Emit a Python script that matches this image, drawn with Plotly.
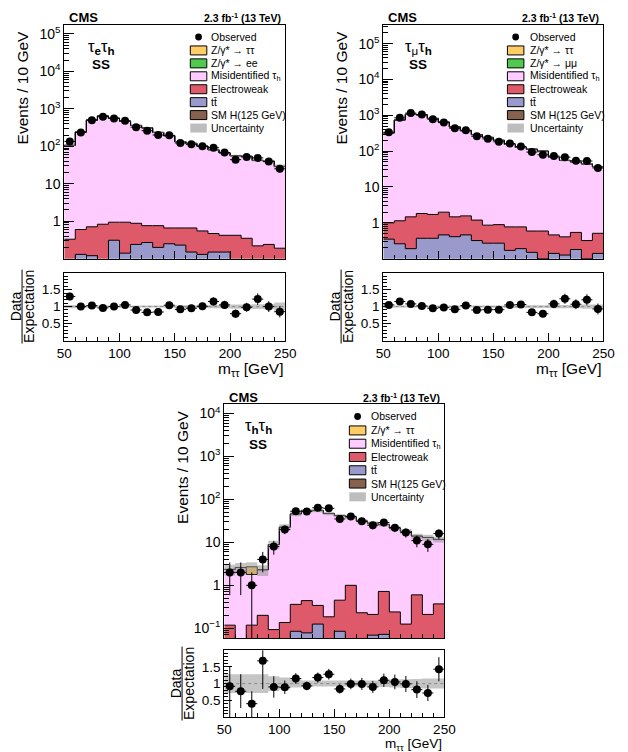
import numpy as np
import plotly.graph_objects as go

FIG_W, FIG_H = 628, 752
FONT = "Liberation Sans, Arial, sans-serif"

# ---------------- binning ----------------
bin_lo, bin_hi, bin_w = 50, 250, 10

# ---------------- tau_e tau_h (SS) ----------------
eh_obs = [135, 235, 500, 615, 552, 480, 325, 262, 200, 196, 123, 113, 100, 92, 68, 44, 52, 49, 39, 25]
eh_obs_err = [11.6, 15.3, 22.4, 24.8, 23.5, 21.9, 18.0, 16.2, 14.1, 14.0, 11.1, 10.6, 10.0, 9.6, 8.2, 6.6, 7.2, 7.0, 6.2, 5.0]
eh_ztt = [0, 0, 0, 0, 0, 0, 0, 0, 0, 0, 0, 0, 0, 0, 0, 0, 0, 0, 0, 0]
eh_zll = [0, 0, 0, 0, 0, 0, 0, 0, 0, 0, 0, 0, 0, 0, 0, 0, 0, 0, 0, 0]
eh_misid = [105.7, 239.4, 499.3, 646.2, 562.1, 465.1, 360.1, 311.2, 234.2, 191.3, 133.3, 119.3, 100.4, 80.5, 66.6, 55.6, 53.6, 41.8, 39.8, 28.8]
eh_ew = [0.33, 0.47, 0.59, 0.83, 0.63, 0.80, 0.64, 0.49, 0.56, 0.41, 0.43, 0.51, 0.42, 0.32, 0.27, 0.42, 0.35, 0.22, 0.24, 0.19]
eh_tt = [0, 0.13, 0.12, 0, 0.31, 0.14, 0.24, 0.27, 0.20, 0.25, 0.23, 0.15, 0.13, 0.15, 0.15, 0, 0, 0, 0, 0]
eh_hsm = [0, 0, 0, 0, 0, 0, 0, 0, 0, 0, 0, 0, 0, 0, 0, 0, 0, 0, 0, 0]
eh_unc = [0.05, 0.04, 0.03, 0.03, 0.03, 0.03, 0.03, 0.03, 0.03, 0.03, 0.04, 0.04, 0.04, 0.05, 0.05, 0.06, 0.06, 0.07, 0.08, 0.12]
eh_ratio = [1.30, 1.00, 1.03, 0.96, 1.00, 1.05, 0.90, 0.83, 0.84, 1.04, 0.92, 0.95, 1.01, 1.15, 1.05, 0.79, 0.98, 1.22, 1.00, 0.85]
eh_ratio_err = [0.11, 0.065, 0.045, 0.04, 0.04, 0.048, 0.05, 0.052, 0.06, 0.073, 0.083, 0.088, 0.10, 0.12, 0.12, 0.12, 0.13, 0.17, 0.16, 0.17]

# ---------------- tau_mu tau_h (SS) ----------------
mh_obs = [338, 850, 1150, 1050, 777, 625, 435, 383, 260, 220, 182, 163, 135, 94, 79, 73, 68, 54, 53, 34]
mh_obs_err = [18.4, 29.2, 33.9, 32.4, 27.9, 25.0, 20.9, 19.6, 16.1, 14.8, 13.5, 12.8, 11.6, 9.7, 8.9, 8.5, 8.2, 7.3, 7.3, 5.8]
mh_ztt = [0, 0, 0, 0, 0, 0, 0, 0, 0, 0, 0, 0, 0, 0, 0, 0, 0, 0, 0, 0]
mh_zll = [0, 0, 0, 0, 0, 0, 0, 0, 0, 0, 0, 0, 0, 0, 0, 0, 0, 0, 0, 0]
mh_misid = [321.0, 737.9, 1063.5, 1027.2, 816.3, 642.0, 471.5, 370.4, 287.8, 241.1, 199.1, 154.2, 126.2, 112.4, 99.4, 67.5, 54.6, 49.5, 43.7, 36.5]
mh_ew = [0.65, 0.88, 1.28, 1.45, 1.34, 1.52, 1.06, 1.10, 0.87, 0.59, 0.62, 0.60, 0.58, 0.44, 0.49, 0.32, 0.28, 0.36, 0.22, 0.37]
mh_tt = [0.35, 0.26, 0.19, 0.37, 0.37, 0.46, 0.41, 0.46, 0.32, 0.27, 0.27, 0.17, 0.19, 0.15, 0.10, 0.14, 0.126, 0.18, 0.10, 0.14]
mh_hsm = [0, 0, 0, 0, 0, 0, 0, 0, 0, 0, 0, 0, 0, 0, 0, 0, 0, 0, 0, 0]
mh_unc = [0.04, 0.03, 0.03, 0.03, 0.03, 0.03, 0.03, 0.03, 0.03, 0.03, 0.03, 0.04, 0.04, 0.04, 0.04, 0.05, 0.05, 0.05, 0.06, 0.06]
mh_ratio = [1.05, 1.15, 1.08, 1.02, 0.95, 0.97, 0.92, 1.03, 0.90, 0.91, 0.91, 1.05, 1.06, 0.83, 0.79, 1.08, 1.23, 1.07, 1.20, 0.93]
mh_ratio_err = [0.057, 0.04, 0.032, 0.032, 0.034, 0.039, 0.044, 0.053, 0.056, 0.061, 0.067, 0.082, 0.091, 0.086, 0.089, 0.126, 0.15, 0.146, 0.165, 0.16]

# ---------------- tau_h tau_h (SS) ----------------
hh_obs = [2, 2, 1, 4, 8, 20, 53, 52, 64, 62, 35, 40, 31, 25, 29, 22, 17, 11, 9, 16]
hh_obs_err_hi = [1.41, 1.41, 1.0, 2.0, 2.83, 4.47, 7.28, 7.21, 8.0, 7.87, 5.92, 6.32, 5.57, 5.0, 5.39, 4.69, 4.12, 3.32, 3.0, 4.0]
hh_obs_err_lo = [1.41, 1.41, 0.999, 2.0, 2.83, 4.47, 7.28, 7.21, 8.0, 7.87, 5.92, 6.32, 5.57, 5.0, 5.39, 4.69, 4.12, 3.32, 3.0, 4.0]
hh_ztt = [0, 0, 0.9, 0, 0, 0, 0, 0, 0, 0, 0, 0, 0, 0, 0, 0, 0, 0, 0, 0]
hh_misid = [2.23, 2.6, 1.68, 2.1, 8.8, 22.36, 45.64, 54.56, 54.66, 46.8, 41.55, 38.0, 31.27, 27.79, 25.28, 21.26, 17.87, 13.4, 12.79, 11.33]
hh_ew = [0.118, 0, 0.118, 0.2, 0.093, 0.136, 0.275, 0.362, 0.215, 0.185, 0.365, 1.0, 0.23, 0.141, 0.648, 0.24, 0.125, 0.6, 0.21, 0.37]
hh_tt = [0, 0, 0, 0, 0, 0, 0.085, 0.078, 0.125, 0, 0.085, 0, 0, 0.069, 0.072, 0, 0, 0, 0, 0]
hh_hsm = [0, 0, 0, 0, 0, 0, 0, 0, 0, 0, 0, 0, 0, 0, 0, 0, 0, 0, 0, 0]
hh_unc = [0.28, 0.28, 0.28, 0.28, 0.22, 0.18, 0.12, 0.09, 0.09, 0.09, 0.09, 0.09, 0.09, 0.09, 0.10, 0.12, 0.13, 0.14, 0.15, 0.15]
hh_ratio = [0.92, 0.77, 0.40, 1.68, 0.90, 0.89, 1.15, 0.93, 1.18, 1.28, 0.84, 0.99, 0.99, 0.90, 1.10, 1.05, 0.99, 0.82, 0.72, 1.43]
hh_ratio_err_hi = [0.60, 0.51, 0.37, 0.84, 0.32, 0.20, 0.16, 0.13, 0.15, 0.16, 0.14, 0.16, 0.18, 0.18, 0.20, 0.22, 0.24, 0.25, 0.24, 0.36]
hh_ratio_err_lo = [0.92, 0.50, 0.40, 0.84, 0.32, 0.20, 0.16, 0.13, 0.15, 0.16, 0.14, 0.16, 0.18, 0.18, 0.20, 0.22, 0.24, 0.25, 0.24, 0.36]

# ---------------- styles ----------------
C_ZTT = "#FFCC66"
C_ZLL = "#4FCA4F"
C_MIS = "#FFCCFF"
C_EW = "#DE5A6A"
C_TT = "#9999CC"
C_H = "#87614E"
C_UNC_LEG = "#BDBDBD"
C_UNC = "rgba(150,150,150,0.55)"

edges = np.arange(bin_lo, bin_hi + bin_w, bin_w)
centers = edges[:-1] + bin_w / 2.0


def px(x):
    return x / FIG_W


def py(y):
    return 1 - y / FIG_H


def step(vals):
    v = list(vals)
    return list(edges), v + [v[-1]]


fig = go.Figure()
shapes = []
annotations = []
layout_axes = {}


def ax_names(n):
    s = "" if n == 1 else str(n)
    return "x" + s, "y" + s, "xaxis" + s, "yaxis" + s


def log_ticks(lab_lo, hi_dec):
    vals, txt, minor = [], [], []
    for d in range(lab_lo, hi_dec + 1):
        vals.append(10.0 ** d)
        if d == 0:
            txt.append("1")
        elif d == 1:
            txt.append("10")
        elif d < 0:
            txt.append("10<sup>\u2212%d</sup>" % (-d))
        else:
            txt.append("10<sup>%d</sup>" % d)
    for d in range(-2, hi_dec + 1):
        for m in range(2, 10):
            minor.append(m * 10.0 ** d)
    return vals, txt, minor


def add_panel(n_main, frame_x, main_y, ratio_y, yrange, decs, comps, obs, obs_hi, obs_lo,
              unc, ratio, r_hi, r_lo, chan, legend_entries, leg_geom, titles_geom):
    xm, ym, xam, yam = ax_names(n_main)
    xr, yr, xar, yar = ax_names(n_main + 1)

    # --- stacked histograms (bottom to top) ---
    base = [1e-5] * len(obs)
    xs, ys = step(base)
    fig.add_trace(go.Scatter(x=xs, y=ys, mode="lines", line=dict(width=0, shape="hv"),
                             hoverinfo="skip", showlegend=False, xaxis=xm, yaxis=ym))
    cum = np.full(len(obs), 1e-4)
    for vals, col in comps:
        cum = cum + np.array(vals, dtype=float)
        xs, ys = step(cum)
        fig.add_trace(go.Scatter(x=xs, y=ys, mode="lines",
                                 line=dict(color="black", width=1, shape="hv"),
                                 fill="tonexty", fillcolor=col, hoverinfo="skip",
                                 showlegend=False, xaxis=xm, yaxis=ym))
    total = cum
    u = np.array(unc)
    xs, ys = step(total * (1 - u))
    fig.add_trace(go.Scatter(x=xs, y=ys, mode="lines", line=dict(width=0, shape="hv"),
                             hoverinfo="skip", showlegend=False, xaxis=xm, yaxis=ym))
    xs, ys = step(total * (1 + u))
    fig.add_trace(go.Scatter(x=xs, y=ys, mode="lines", line=dict(width=0, shape="hv"),
                             fill="tonexty", fillcolor=C_UNC, hoverinfo="skip",
                             showlegend=False, xaxis=xm, yaxis=ym))
    # observed
    fig.add_trace(go.Scatter(x=centers, y=obs, mode="markers",
                             marker=dict(color="black", size=8),
                             error_y=dict(type="data", array=obs_hi, arrayminus=obs_lo,
                                          color="black", thickness=1, width=0),
                             error_x=dict(type="constant", value=bin_w / 2, color="black",
                                          thickness=1, width=0),
                             hoverinfo="skip", showlegend=False, xaxis=xm, yaxis=ym))

    # --- ratio panel ---
    xs, ys = step(1 - u)
    fig.add_trace(go.Scatter(x=xs, y=ys, mode="lines", line=dict(width=0, shape="hv"),
                             hoverinfo="skip", showlegend=False, xaxis=xr, yaxis=yr))
    xs, ys = step(1 + u)
    fig.add_trace(go.Scatter(x=xs, y=ys, mode="lines", line=dict(width=0, shape="hv"),
                             fill="tonexty", fillcolor=C_UNC, hoverinfo="skip",
                             showlegend=False, xaxis=xr, yaxis=yr))
    fig.add_trace(go.Scatter(x=[bin_lo, bin_hi], y=[1, 1], mode="lines",
                             line=dict(color="#888888", width=1, dash="dot"),
                             hoverinfo="skip", showlegend=False, xaxis=xr, yaxis=yr))
    fig.add_trace(go.Scatter(x=centers, y=ratio, mode="markers",
                             marker=dict(color="black", size=8),
                             error_y=dict(type="data", array=r_hi, arrayminus=r_lo,
                                          color="black", thickness=1, width=0),
                             error_x=dict(type="constant", value=bin_w / 2, color="black",
                                          thickness=1, width=0),
                             hoverinfo="skip", showlegend=False, xaxis=xr, yaxis=yr))

    x0, x1 = frame_x
    common_x = dict(domain=[px(x0), px(x1)], range=[bin_lo, bin_hi], showgrid=False,
                    zeroline=False, showline=True, mirror=True, linecolor="black",
                    linewidth=1, ticks="inside", ticklen=8, tickwidth=1, tickcolor="black",
                    tickvals=[50, 100, 150, 200, 250],
                    minor=dict(ticks="inside", ticklen=4, tickwidth=1, tickcolor="black",
                               dtick=10, tick0=50, showgrid=False))
    vals, txt, minor = log_ticks(decs[0], decs[1])
    layout_axes[xam] = dict(common_x, anchor=ym, showticklabels=False)
    layout_axes[yam] = dict(domain=[py(main_y[1]), py(main_y[0])], anchor=xm, type="log",
                            range=yrange, showgrid=False, zeroline=False, showline=True,
                            mirror=True, linecolor="black", linewidth=1, ticks="inside",
                            ticklen=10, tickwidth=1, tickcolor="black", tickmode="array",
                            tickvals=vals, ticktext=txt,
                            tickfont=dict(size=14, color="black", family=FONT),
                            minor=dict(ticks="inside", ticklen=5, tickwidth=1,
                                       tickcolor="black", tickmode="array", tickvals=minor,
                                       showgrid=False))
    layout_axes[xar] = dict(common_x, anchor=yr, showticklabels=True,
                            tickfont=dict(size=13.5, color="black", family=FONT))
    layout_axes[yar] = dict(domain=[py(ratio_y[1]), py(ratio_y[0])], anchor=xr,
                            range=[0, 2], showgrid=False, zeroline=False, showline=True,
                            mirror=True, linecolor="black", linewidth=1, ticks="inside",
                            ticklen=8, tickwidth=1, tickcolor="black", tickmode="array",
                            tickvals=[0.5, 1, 1.5], ticktext=["0.5", "1", "1.5"],
                            tickfont=dict(size=13.5, color="black", family=FONT),
                            minor=dict(ticks="inside", ticklen=4, tickwidth=1,
                                       tickcolor="black", dtick=0.1, tick0=0,
                                       showgrid=False))

    # --- texts ---
    def ann(x, y, text, size, xanchor="center", yanchor="middle", angle=0):
        annotations.append(dict(x=px(x), y=py(y), xref="paper", yref="paper", text=text,
                                showarrow=False, xanchor=xanchor, yanchor=yanchor,
                                textangle=angle,
                                font=dict(size=size, color="black", family=FONT)))

    tg = titles_geom
    ann(x0 + 3, tg["top"] - 7, "<b>CMS</b>", 13, xanchor="left")
    ann(x1 - 2, tg["top"] - 7, "<b>2.3 fb<sup>-1</sup> (13 TeV)</b>", 10.5, xanchor="right")
    ann(tg["chan_x"], tg["top"] + 22, chan, 16.5)
    ann(tg["chan_x"], tg["top"] + 40, "<b>SS</b>", 13.5)
    ann(tg["ytitle_x"], tg["top"] + 63, "Events / 10 GeV", 15.5, angle=-90)
    rc = (ratio_y[0] + ratio_y[1]) / 2
    ann(tg["ytitle_x"] - 7, rc, "Data", 14, angle=-90)
    ann(tg["ytitle_x"] + 6, rc, "Expectation", 14, angle=-90)
    shapes.append(dict(type="line", xref="paper", yref="paper",
                       x0=px(tg["ytitle_x"] - 0.5), x1=px(tg["ytitle_x"] - 0.5),
                       y0=py(rc - 37), y1=py(rc + 37), line=dict(color="black", width=1)))
    ann(x1, tg["xtitle_y"], "m<sub>\u03c4\u03c4</sub> [GeV]", tg["xtitle_size"], xanchor="right")

    # --- legend ---
    bx0, bx1, tx, y_obs, y_rows, dy = leg_geom
    cx = (bx0 + bx1) / 2
    shapes.append(dict(type="circle", xref="paper", yref="paper", x0=px(cx - 3.5),
                       x1=px(cx + 3.5), y0=py(y_obs + 3.5), y1=py(y_obs - 3.5),
                       fillcolor="black", line=dict(color="black", width=0)))
    ann(tx, y_obs, "Observed", 10.5, xanchor="left")
    for i, (label, col, outline) in enumerate(legend_entries):
        yy = y_rows + i * dy
        shapes.append(dict(type="rect", xref="paper", yref="paper", x0=px(bx0), x1=px(bx1),
                           y0=py(yy + 4.5), y1=py(yy - 4.5), fillcolor=col,
                           line=dict(color="black" if outline else col,
                                     width=1 if outline else 0)))
        ann(tx, yy, label, 10.5, xanchor="left")


TT_LABEL = "t\u0074\u0304"

add_panel(
    1, (58, 286), (24, 258), (272, 340), [-1, 5.24], (0, 5),
    [(eh_hsm, C_H), (eh_tt, C_TT), (eh_ew, C_EW), (eh_misid, C_MIS), (eh_zll, C_ZLL), (eh_ztt, C_ZTT)],
    eh_obs, eh_obs_err, eh_obs_err, eh_unc, eh_ratio, eh_ratio_err, eh_ratio_err,
    "\u03c4<sub><b>e</b></sub>\u03c4<sub><b>h</b></sub>",
    [("Z/\u03b3* \u2192 \u03c4\u03c4", C_ZTT, True), ("Z/\u03b3* \u2192 ee", C_ZLL, True),
     ("Misidentified \u03c4<sub>h</sub>", C_MIS, True), ("Electroweak", C_EW, True),
     (TT_LABEL, C_TT, True), ("SM H(125 GeV)", C_H, True), ("Uncertainty", C_UNC_LEG, False)],
    (188, 205, 207.5, 36, 49.5, 12.95),
    dict(top=24, chan_x=96, ytitle_x=15, xtitle_y=369, xtitle_size=15.5),
)

add_panel(
    3, (387, 614), (24, 258), (272, 340), [-1, 5.52], (0, 5),
    [(mh_hsm, C_H), (mh_tt, C_TT), (mh_ew, C_EW), (mh_misid, C_MIS), (mh_zll, C_ZLL), (mh_ztt, C_ZTT)],
    mh_obs, mh_obs_err, mh_obs_err, mh_unc, mh_ratio, mh_ratio_err, mh_ratio_err,
    "\u03c4<sub>\u03bc</sub>\u03c4<sub><b>h</b></sub>",
    [("Z/\u03b3* \u2192 \u03c4\u03c4", C_ZTT, True), ("Z/\u03b3* \u2192 \u03bc\u03bc", C_ZLL, True),
     ("Misidentified \u03c4<sub>h</sub>", C_MIS, True), ("Electroweak", C_EW, True),
     (TT_LABEL, C_TT, True), ("SM H(125 GeV)", C_H, True), ("Uncertainty", C_UNC_LEG, False)],
    (515, 532, 536.5, 36, 49.5, 12.95),
    dict(top=24, chan_x=423, ytitle_x=344, xtitle_y=369, xtitle_size=15.5),
)

add_panel(
    5, (223, 450), (404, 638), (650, 717), [-1.23, 4.21], (-1, 4),
    [(hh_hsm, C_H), (hh_tt, C_TT), (hh_ew, C_EW), (hh_misid, C_MIS), (hh_ztt, C_ZTT)],
    hh_obs, hh_obs_err_hi, hh_obs_err_lo, hh_unc, hh_ratio, hh_ratio_err_hi, hh_ratio_err_lo,
    "\u03c4<sub><b>h</b></sub>\u03c4<sub><b>h</b></sub>",
    [("Z/\u03b3* \u2192 \u03c4\u03c4", C_ZTT, True),
     ("Misidentified \u03c4<sub>h</sub>", C_MIS, True), ("Electroweak", C_EW, True),
     (TT_LABEL, C_TT, True), ("SM H(125 GeV)", C_H, True), ("Uncertainty", C_UNC_LEG, False)],
    (352, 369, 372, 416, 430, 13.3),
    dict(top=404, chan_x=258, ytitle_x=180, xtitle_y=744.5, xtitle_size=13.5),
)

fig.update_layout(
    width=FIG_W, height=FIG_H, autosize=False,
    margin=dict(l=0, r=0, t=0, b=0),
    paper_bgcolor="white", plot_bgcolor="white",
    showlegend=False,
    font=dict(family=FONT, color="black"),
    shapes=shapes, annotations=annotations,
    **layout_axes,
)

fig.write_html("out.html")
